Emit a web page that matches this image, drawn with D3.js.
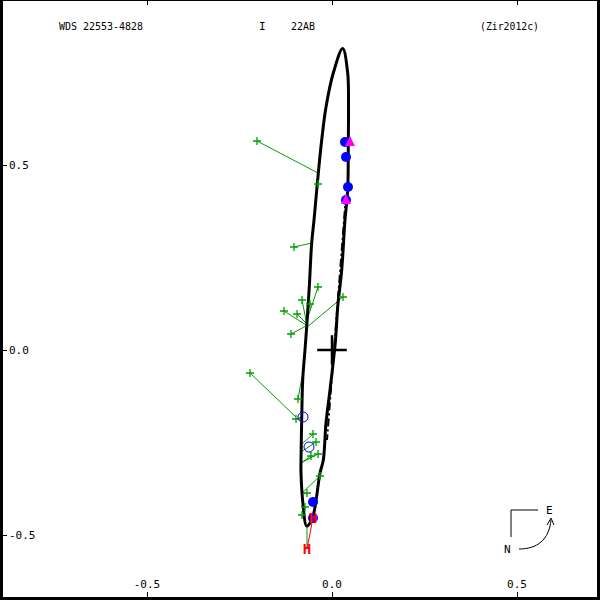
<!DOCTYPE html>
<html><head><meta charset="utf-8">
<script src="https://cdn.jsdelivr.net/npm/d3@7"></script>
<style>body{margin:0;background:#fff}svg{display:block}text{font-family:"DejaVu Sans Mono",monospace;font-size:11px}</style>
</head><body><svg id="c" width="600" height="600"></svg>
<script>
// ---- data (arcsec) ----
const xTicks = [-0.5, 0.0, 0.5];
const yTicks = [0.5, 0.0, -0.5];
const xTickLabels = ["-0.5", "0.0", "0.5"];
const yTickLabels = ["0.5", "0.0", "-0.5"];
const titleLeft = "WDS 22553-4828";
const titleMid1 = "I";
const titleMid2 = "22AB";
const titleRight = "(Zir2012c)";
// orbit points
const orbitX = [0.0289,0.0424,0.0446,0.0441,0.0424,0.0351,0.0262,0.0154,0.0095,-0.0054,-0.0162,-0.0235,-0.0324,-0.0459,-0.0549,-0.0689,-0.0776,-0.0838,-0.0838,-0.0819,-0.0792,-0.0730,-0.0684,-0.0614,-0.0549,-0.0486,-0.0370,-0.0278,-0.0162,0.0035];
const orbitY = [0.8149,0.7486,0.6568,0.5676,0.4324,0.3514,0.2162,0.1162,0.0270,-0.1081,-0.1973,-0.2973,-0.3324,-0.4243,-0.4595,-0.4757,-0.4243,-0.3324,-0.2973,-0.1892,-0.0811,0.0000,0.0622,0.1703,0.2892,0.3514,0.4784,0.5676,0.6568,0.7486];
// line of nodes
const nodesX = [0.0378, -0.0135];
const nodesY = [0.4189, -0.2432];
// micrometric measures (observed) and predicted positions
const microX = [-0.2027,-0.0378,-0.1027,-0.0378,-0.0811,-0.0595,-0.0946,-0.1297,-0.1108,0.0297,-0.2216,-0.0919,-0.0973,-0.0514,-0.0432,-0.0568,-0.0378,-0.0324,-0.0676,-0.0730,-0.0811];
const microY = [0.5649,0.4486,0.2784,0.1703,0.1351,0.1243,0.0973,0.1054,0.0432,0.1432,-0.0622,-0.1324,-0.1865,-0.2270,-0.2486,-0.2865,-0.2811,-0.3405,-0.3865,-0.4243,-0.4459];
const microPX = [-0.0378,-0.0378,-0.0541,-0.0676,-0.0703,-0.0703,-0.0703,-0.0703,-0.0703,-0.0703,-0.0973,-0.0811,-0.0811,-0.0838,-0.0838,-0.0838,-0.0838,-0.0811,-0.0811,-0.0811,-0.0811];
const microPY = [0.4784,0.4486,0.2892,0.0811,0.0811,0.0757,0.0730,0.0676,0.0649,0.0595,-0.1811,-0.0730,-0.1811,-0.2568,-0.2757,-0.3054,-0.3054,-0.3865,-0.3865,-0.4243,-0.4459];
// interferometric measures
const specX = [0.0351,0.0378,0.0432,0.0378,-0.0514,-0.0514];
const specY = [0.5622,0.5216,0.4405,0.4054,-0.4108,-0.4541];
// open circles
const openX = [-0.0784,-0.0622];
const openY = [-0.1811,-0.2622];
// triangles
const triX = [0.0486,0.0378];
const triY = [0.5622,0.4054];
// Hipparcos (observed) and predicted positions
const hipX = [-0.0514,-0.0676];
const hipY = [-0.4541,-0.5378];
const hipPX = [-0.0514,-0.0676];
const hipPY = [-0.4541,-0.4730];

// ---- drawing ----
const svg = d3.select("#c");
const x = d3.scaleLinear().domain([-0.5, 0.5]).range([147, 517]);
const y = d3.scaleLinear().domain([-0.5, 0.5]).range([535, 165]);

// frame
svg.append("rect").attr("x",0).attr("y",0).attr("width",3).attr("height",600).attr("fill","#000");
svg.append("rect").attr("x",597).attr("y",0).attr("width",3).attr("height",600).attr("fill","#000");
svg.append("rect").attr("x",0).attr("y",597).attr("width",600).attr("height",3).attr("fill","#000");
svg.append("rect").attr("x",0).attr("y",0).attr("width",600).attr("height",1).attr("fill","#000");

// axes ticks
const gx = svg.append("g");
xTicks.forEach((t,i)=>{
  gx.append("line").attr("x1",x(t)+0.5).attr("x2",x(t)+0.5).attr("y1",592).attr("y2",597).attr("stroke","#000");
  gx.append("line").attr("x1",x(t)+0.5).attr("x2",x(t)+0.5).attr("y1",0).attr("y2",5).attr("stroke","#000");
  gx.append("text").attr("x",x(t)).attr("y",588).attr("text-anchor","middle").text(xTickLabels[i]);
});
yTicks.forEach((t,i)=>{
  gx.append("line").attr("x1",3).attr("x2",7).attr("y1",y(t)+0.5).attr("y2",y(t)+0.5).attr("stroke","#000");
  gx.append("text").attr("x",9).attr("y",y(t)+4).text(yTickLabels[i]);
});

// titles
svg.append("text").attr("x",59).attr("y",30).attr("textLength",84).attr("lengthAdjust","spacingAndGlyphs").text(titleLeft);
svg.append("text").attr("x",259).attr("y",30).text(titleMid1);
svg.append("text").attr("x",291).attr("y",30).attr("textLength",24).attr("lengthAdjust","spacingAndGlyphs").text(titleMid2);
svg.append("text").attr("x",480).attr("y",30).attr("textLength",59).attr("lengthAdjust","spacingAndGlyphs").text(titleRight);

// micrometric O-C lines
const green = "#00a000";
microX.forEach((d,i)=>{
  svg.append("line").attr("x1",x(microX[i])).attr("y1",y(microY[i])).attr("x2",x(microPX[i])).attr("y2",y(microPY[i])).attr("stroke",green).attr("stroke-width",1);
});
hipX.forEach((d,i)=>{
  svg.append("line").attr("x1",x(hipX[i])).attr("y1",y(hipY[i])).attr("x2",x(hipPX[i])).attr("y2",y(hipPY[i])).attr("stroke",green).attr("stroke-width",1);
});

// orbit
const pts = orbitX.map((d,i)=>[x(d), y(orbitY[i])]);
svg.append("path").attr("d", d3.line().curve(d3.curveCatmullRomClosed)(pts)).attr("fill","none").attr("stroke","#000").attr("stroke-width",3);
// line of nodes
svg.append("line").attr("x1",x(nodesX[0])).attr("y1",y(nodesY[0])).attr("x2",x(nodesX[1])).attr("y2",y(nodesY[1])).attr("stroke","#000").attr("stroke-width",2).attr("stroke-dasharray","8,3,2,3");
// primary cross
svg.append("line").attr("x1",x(-0.04)).attr("x2",x(0.04)).attr("y1",y(0)).attr("y2",y(0)).attr("stroke","#000").attr("stroke-width",2.5);
svg.append("line").attr("x1",x(0)).attr("x2",x(0)).attr("y1",y(0.04)).attr("y2",y(-0.04)).attr("stroke","#000").attr("stroke-width",2.5);

// micrometric crosses
microX.forEach((d,i)=>{
  const cx = x(microX[i]), cy = y(microY[i]);
  svg.append("path").attr("d",`M${cx-4},${cy}H${cx+4}M${cx},${cy-4}V${cy+4}`).attr("stroke",green).attr("stroke-width",1.3);
});

// interferometric dots
specX.forEach((d,i)=>svg.append("circle").attr("cx",x(d)).attr("cy",y(specY[i])).attr("r",5).attr("fill","#0000ff"));
// triangles
triX.forEach((d,i)=>{
  const cx=x(d), cy=y(triY[i]);
  svg.append("path").attr("d",`M${cx},${cy-6}L${cx+5},${cy+4}L${cx-5},${cy+4}Z`).attr("fill","#ff00ff");
});
// open circles
openX.forEach((d,i)=>svg.append("circle").attr("cx",x(d)).attr("cy",y(openY[i])).attr("r",5).attr("fill","none").attr("stroke","#0000ff").attr("stroke-width",1));
// Hipparcos
svg.append("line").attr("x1",x(hipX[1])).attr("y1",y(hipY[1])).attr("x2",x(hipX[0])).attr("y2",y(hipY[0])).attr("stroke","#ff0000").attr("stroke-width",1);
hipX.forEach((d,i)=>{
  svg.append("text").attr("x",x(d)).attr("y",y(hipY[i])+5).attr("text-anchor","middle").attr("fill","#ff0000").style("font-weight","bold").style("font-size","14px").text("H");
});

// compass
svg.append("path").attr("d","M538,510H511V537").attr("fill","none").attr("stroke","#000");
svg.append("text").attr("x",546).attr("y",514).text("E");
svg.append("text").attr("x",504).attr("y",553).text("N");
svg.append("path").attr("d","M519,549C537,549 549,540 551,520").attr("fill","none").attr("stroke","#000");
svg.append("path").attr("d","M547,525L551,518L554,525").attr("fill","none").attr("stroke","#000");
</script></body></html>
